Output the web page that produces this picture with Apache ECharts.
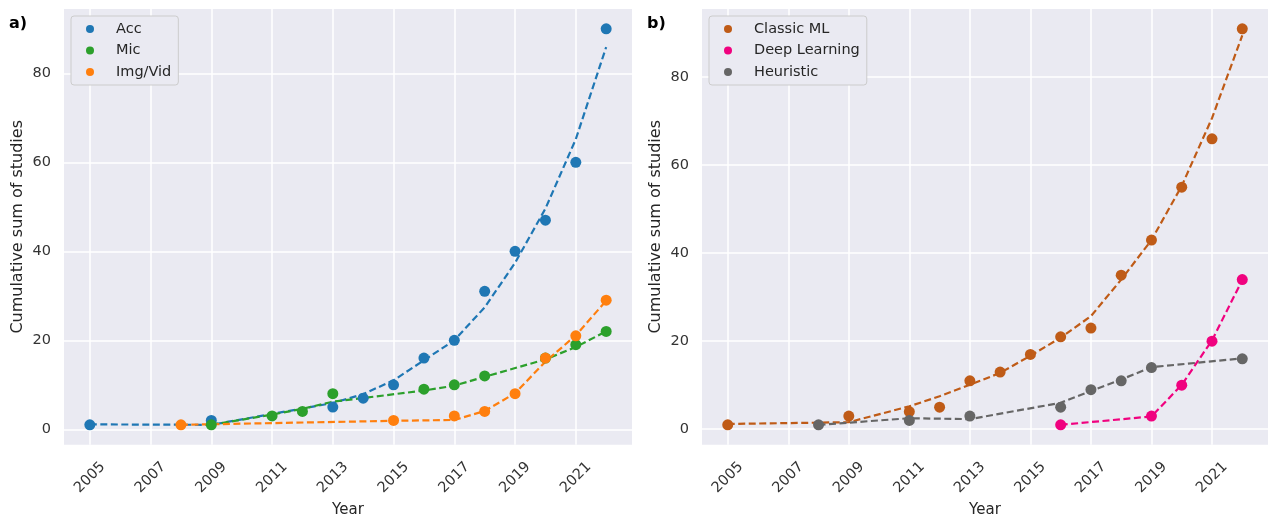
<!DOCTYPE html>
<html>
<head>
<meta charset="utf-8">
<script src="https://cdn.jsdelivr.net/npm/echarts@6/dist/echarts.min.js"></script>
<style>html,body{margin:0;padding:0;background:#fff}#c{width:1268px;height:523px}</style>
</head>
<body>
<div id="c"></div>
<script>
// Panel a)
const accYears = [2005, 2009, 2013, 2014, 2015, 2016, 2017, 2018, 2019, 2020, 2021, 2022];
const accValues = [1, 2, 5, 7, 10, 16, 20, 31, 40, 47, 60, 90];
const accFit = [1.1, 1.0, 5.9, 7.9, 11.0, 15.5, 20.0, 27.4, 37.4, 49.6, 65.2, 85.9];

const micYears = [2009, 2011, 2012, 2013, 2016, 2017, 2018, 2020, 2021, 2022];
const micValues = [1, 3, 4, 8, 9, 10, 12, 16, 19, 22];
const micFit = [1.0, 3.3, 4.6, 6.2, 8.7, 9.8, 11.8, 15.7, 18.5, 22.0];

const imgYears = [2008, 2015, 2017, 2018, 2019, 2020, 2021, 2022];
const imgValues = [1, 2, 3, 4, 8, 16, 21, 29];
const imgFit = [1.0, 1.9, 2.1, 4.1, 8.1, 15.2, 21.1, 28.9];

// Panel b)
const classicYears = [2005, 2009, 2011, 2012, 2013, 2014, 2015, 2016, 2017, 2018, 2019, 2020, 2021, 2022];
const classicValues = [1, 3, 4, 5, 11, 13, 17, 21, 23, 35, 43, 55, 66, 91];
const classicFit = [1.2, 1.6, 5.2, 7.5, 10.1, 12.8, 16.7, 20.8, 25.7, 34.0, 43.0, 55.3, 70.7, 89.5];

const dlYears = [2016, 2019, 2020, 2021, 2022];
const dlValues = [1, 3, 10, 20, 34];
const dlFit = [1.0, 2.9, 10.1, 20.2, 33.9];

const heurYears = [2008, 2011, 2013, 2016, 2017, 2018, 2019, 2022];
const heurValues = [1, 2, 3, 5, 9, 11, 14, 16];
const heurFit = [1.0, 2.5, 2.3, 6.0, 8.7, 11.3, 14.1, 16.1];

const xTicks = [2005, 2007, 2009, 2011, 2013, 2015, 2017, 2019, 2021];
const yTicks = [0, 20, 40, 60, 80];

const legendA = ['Acc', 'Mic', 'Img/Vid'];
const legendB = ['Classic ML', 'Deep Learning', 'Heuristic'];
const colorsA = ['#1f77b4', '#2ca02c', '#ff7f0e'];
const colorsB = ['#bf5b17', '#f0027f', '#666666'];

const FONT = 'DejaVu Sans';
const pair = (xs, ys) => xs.map((x, i) => [x, ys[i]]);

function xAxis(idx) {
  return {
    type: 'value', gridIndex: idx, min: 2004.15, max: 2022.85,
    axisLine: { show: false },
    axisTick: { show: false, customValues: xTicks },
    axisLabel: {
      customValues: xTicks, rotate: 45, align: 'center', verticalAlign: 'middle',
      margin: 33, fontSize: 14.5, color: '#333', fontFamily: FONT,
      formatter: v => String(v)
    },
    splitLine: { show: true, lineStyle: { color: '#ffffff', width: 1.5 } },
    name: 'Year', nameLocation: 'middle', nameGap: 55,
    nameTextStyle: { fontSize: 15, color: '#262626', fontFamily: FONT }
  };
}
function yAxis(idx, min, max) {
  return {
    type: 'value', gridIndex: idx, min: min, max: max,
    axisLine: { show: false },
    axisTick: { show: false, customValues: yTicks },
    axisLabel: { customValues: yTicks, margin: 13, fontSize: 14.5, color: '#333', fontFamily: FONT },
    splitLine: { show: true, lineStyle: { color: '#ffffff', width: 1.5 } },
    name: 'Cumulative sum of studies', nameLocation: 'middle', nameGap: 38,
    nameTextStyle: { fontSize: 16, color: '#262626', fontFamily: FONT }
  };
}
function scatter(name, idx, xs, ys, color) {
  return {
    type: 'scatter', name: name, xAxisIndex: idx, yAxisIndex: idx,
    data: pair(xs, ys), symbol: 'circle', symbolSize: 11, z: 4,
    itemStyle: { color: color, opacity: 1 }
  };
}
function fit(idx, xs, ys, color) {
  return {
    type: 'line', name: '_fit', xAxisIndex: idx, yAxisIndex: idx,
    data: pair(xs, ys), showSymbol: false, symbol: 'none', z: 3,
    lineStyle: { color: color, width: 2.2, type: [7, 3.5] },
    silent: true
  };
}
function legend(left, names, pr) {
  return {
    left: left, top: 16, orient: 'vertical', data: names,
    icon: 'circle', itemWidth: 8, itemHeight: 8, itemGap: 5.5,
    padding: [5, pr, 5, 15],
    backgroundColor: '#eaeaf2', borderColor: '#cccccc', borderWidth: 1, borderRadius: 3,
    textStyle: { fontSize: 14.5, color: '#262626', fontFamily: FONT, lineHeight: 16, padding: [0, 0, 0, 17] }
  };
}

const chart = echarts.init(document.getElementById('c'), null, { renderer: 'canvas' });
chart.setOption({
  animation: false,
  backgroundColor: '#ffffff',
  textStyle: { fontFamily: FONT },
  title: [
    { text: 'a)', left: 9, top: 16, padding: 0, textStyle: { fontSize: 16, fontWeight: 'bold', color: '#000', fontFamily: FONT } },
    { text: 'b)', left: 647, top: 16, padding: 0, textStyle: { fontSize: 16, fontWeight: 'bold', color: '#000', fontFamily: FONT } }
  ],
  grid: [
    { left: 64, top: 9, width: 568, height: 440, show: true, backgroundColor: '#eaeaf2', borderWidth: 0 },
    { left: 702, top: 9, width: 570, height: 440, show: true, backgroundColor: '#eaeaf2', borderWidth: 0 }
  ],
  xAxis: [xAxis(0), xAxis(1)],
  yAxis: [yAxis(0, -3.45, 94.45), yAxis(1, -3.5, 95.5)],
  legend: [legend(71, legendA, 7), legend(709, legendB, 7)],
  series: [
    fit(0, accYears, accFit, colorsA[0]),
    fit(0, micYears, micFit, colorsA[1]),
    fit(0, imgYears, imgFit, colorsA[2]),
    scatter(legendA[0], 0, accYears, accValues, colorsA[0]),
    scatter(legendA[1], 0, micYears, micValues, colorsA[1]),
    scatter(legendA[2], 0, imgYears, imgValues, colorsA[2]),
    fit(1, classicYears, classicFit, colorsB[0]),
    fit(1, dlYears, dlFit, colorsB[1]),
    fit(1, heurYears, heurFit, colorsB[2]),
    scatter(legendB[0], 1, classicYears, classicValues, colorsB[0]),
    scatter(legendB[1], 1, dlYears, dlValues, colorsB[1]),
    scatter(legendB[2], 1, heurYears, heurValues, colorsB[2])
  ]
});
</script>
</body>
</html>
